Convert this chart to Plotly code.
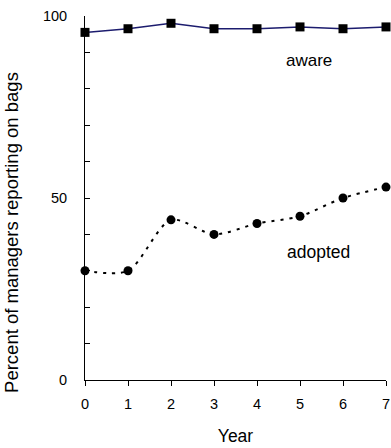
import plotly.graph_objects as go

years = [0, 1, 2, 3, 4, 5, 6, 7]
aware = [95.5, 96.5, 98, 96.5, 96.5, 97, 96.5, 97]
adopted = [30, 30, 44, 40, 43, 45, 50, 53]

FONT = "Liberation Sans, Arial, sans-serif"

fig = go.Figure()
fig.add_trace(go.Scatter(
    x=years, y=aware, mode="lines+markers",
    line=dict(color="#1c1c6e", width=1.5),
    marker=dict(symbol="square", size=9, color="black"),
    cliponaxis=False, showlegend=False))
fig.add_trace(go.Scatter(
    x=years, y=adopted, mode="lines+markers",
    line=dict(color="black", width=2, dash="3px,6px", shape="spline", smoothing=0.8),
    marker=dict(symbol="circle", size=9, color="black"),
    cliponaxis=False, showlegend=False))

fig.add_annotation(x=5.2, y=87.7, text="aware", showarrow=False,
                   font=dict(family=FONT, size=17, color="black"))
fig.add_annotation(x=5.43, y=35.3, text="adopted", showarrow=False,
                   font=dict(family=FONT, size=17.5, color="black"))
fig.add_annotation(x=-0.2425, y=0.404, xref="paper", yref="paper",
                   text="Percent of managers reporting on bags", textangle=-90,
                   showarrow=False, xanchor="center", yanchor="middle",
                   font=dict(family=FONT, size=18.5, color="black"))

fig.update_layout(
    width=391, height=448,
    margin=dict(l=85, r=5, t=16, b=68, autoexpand=False),
    paper_bgcolor="white", plot_bgcolor="white",
    font=dict(family=FONT, size=14, color="black"),
    hovermode=False,
    xaxis=dict(range=[0, 7], tickvals=years, showgrid=False, zeroline=False,
               showline=True, linecolor="black", linewidth=1, automargin=False,
               ticks="outside", ticklen=5, tickcolor="black",
               ticklabelstandoff=6,
               tickfont=dict(size=14.5),
               title=dict(text="Year", font=dict(size=17.5), standoff=18)),
    yaxis=dict(range=[0, 100], tickvals=[0, 50, 100], showgrid=False, zeroline=False,
               showline=True, linecolor="black", linewidth=1, automargin=False,
               ticks="inside", ticklen=5, tickcolor="black",
               ticklabelstandoff=14,
               minor=dict(dtick=10, ticks="inside", ticklen=5, tickcolor="black", showgrid=False),
               tickfont=dict(size=14.5)),
)

fig.write_html("out.html",
               config={"displayModeBar": False},
               post_script="document.body.style.margin='0';document.body.style.overflow='hidden';")
